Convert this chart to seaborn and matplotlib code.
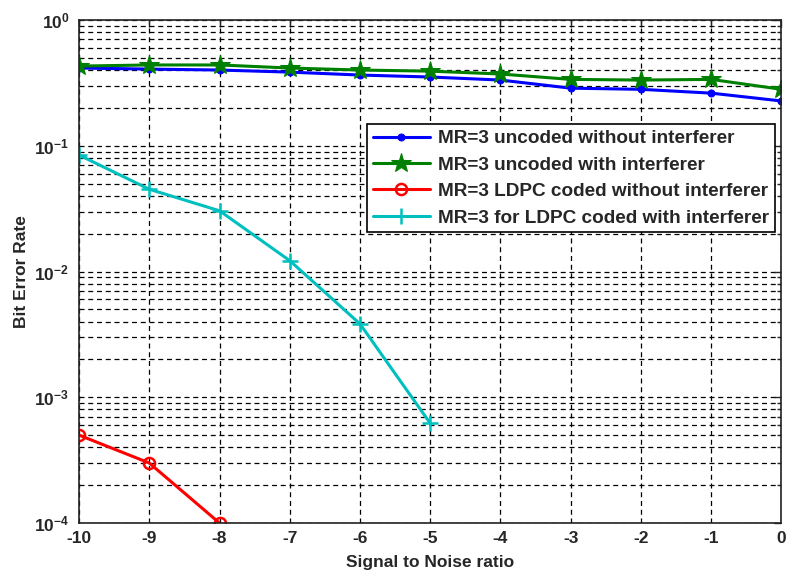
import numpy as np
import pandas as pd
import matplotlib
matplotlib.use("Agg")
import matplotlib.pyplot as plt
import seaborn as sns
from matplotlib.ticker import LogLocator, FixedLocator, NullFormatter

# SNR axis
snr = [-10, -9, -8, -7, -6, -5, -4, -3, -2, -1, 0]
snr_ldpc = [-10, -9, -8, -7, -6, -5]
snr_ldpc_clean = [-10, -9, -8]

# Bit error rates
ber_uncoded_clean = [0.415, 0.407, 0.400, 0.385, 0.365, 0.352, 0.333, 0.287, 0.281, 0.262, 0.227]
ber_uncoded_intf = [0.430, 0.439, 0.439, 0.415, 0.400, 0.392, 0.372, 0.337, 0.333, 0.337, 0.281]
ber_ldpc_clean = [0.0005, 0.0003, 0.0001]
ber_ldpc_intf = [0.0844, 0.0451, 0.0304, 0.0122, 0.00383, 0.00062]

labels = [
    "MR=3 uncoded without interferer",
    "MR=3 uncoded with interferer",
    "MR=3 LDPC coded without interferer",
    "MR=3 for LDPC coded with interferer",
]
x_ticks = list(range(-10, 1))

sns.set_style("white")
plt.rcParams["font.family"] = ["Liberation Sans", "DejaVu Sans"]
plt.rcParams["font.weight"] = "bold"
plt.rcParams["axes.unicode_minus"] = False
plt.rcParams["mathtext.fontset"] = "custom"
plt.rcParams["mathtext.rm"] = "Liberation Sans:bold"
plt.rcParams["mathtext.it"] = "Liberation Sans:bold"
plt.rcParams["mathtext.bf"] = "Liberation Sans:bold"
plt.rcParams["mathtext.default"] = "regular"

fig = plt.figure(figsize=(7.87, 5.78), dpi=100)
ax = fig.add_axes([79 / 787, 1 - 523 / 578, 702.5 / 787, 503 / 578])

series = [
    (snr, ber_uncoded_clean, "#0000ff", "o", dict(markersize=5, markerfacecolor="#0000ff", markeredgecolor="#0000ff")),
    (snr, ber_uncoded_intf, "#008000", "*", dict(markersize=15, markerfacecolor="#008000", markeredgecolor="#008000")),
    (snr_ldpc_clean, ber_ldpc_clean, "#ff0000", "o", dict(markersize=8, markerfacecolor="none", markeredgecolor="#ff0000", markeredgewidth=1.8)),
    (snr_ldpc, ber_ldpc_intf, "#00bfbf", "+", dict(markersize=11, markeredgecolor="#00bfbf", markeredgewidth=1.8)),
]

for (xs, ys, color, marker, mk), label in zip(series, labels):
    df = pd.DataFrame({"snr": xs, "ber": ys})
    sns.lineplot(data=df, x="snr", y="ber", ax=ax, color=color, marker=marker,
                 linewidth=2.2, label=label, **mk)

ax.set_yscale("log")
ax.set_xlim(-10, 0)
ax.set_ylim(1e-4, 1)
ax.xaxis.set_major_locator(FixedLocator(x_ticks))
ax.yaxis.set_major_locator(LogLocator(base=10, numticks=10))
ax.yaxis.set_minor_locator(LogLocator(base=10, subs=np.arange(2, 10), numticks=10))
ax.yaxis.set_minor_formatter(NullFormatter())

ax.grid(True, which="major", axis="both", color="black", linestyle=(0, (4, 3)), linewidth=0.9)
ax.grid(True, which="minor", axis="y", color="black", linestyle=(0, (4, 3)), linewidth=0.9)

ax.tick_params(which="both", direction="in", top=True, right=True, labelsize=12.5, width=1)
ax.tick_params(which="major", length=5)
ax.tick_params(which="minor", length=3)
ax.tick_params(axis="x", which="major", pad=6)
ax.tick_params(axis="y", which="major", pad=7)
for lbl in ax.get_xticklabels() + ax.get_yticklabels():
    lbl.set_fontweight("bold")
for s in ax.spines.values():
    s.set_color("#222222")
    s.set_linewidth(1.2)

ax.set_xlabel("Signal to Noise ratio", fontsize=12.5, fontweight="bold", labelpad=6)
ax.set_ylabel("Bit Error Rate", fontsize=12.5, fontweight="bold", labelpad=4)

leg = ax.legend(loc="lower right", bbox_to_anchor=(0.991, 0.578), borderaxespad=0,
                prop={"size": 13.7, "weight": "bold"}, frameon=True, fancybox=False,
                handlelength=3.0, labelspacing=0.48, borderpad=0.3, handletextpad=0.45)
leg.get_frame().set_edgecolor("black")
leg.get_frame().set_linewidth(1.2)
leg.get_frame().set_alpha(1)

fig.savefig("out.png", dpi=100)
